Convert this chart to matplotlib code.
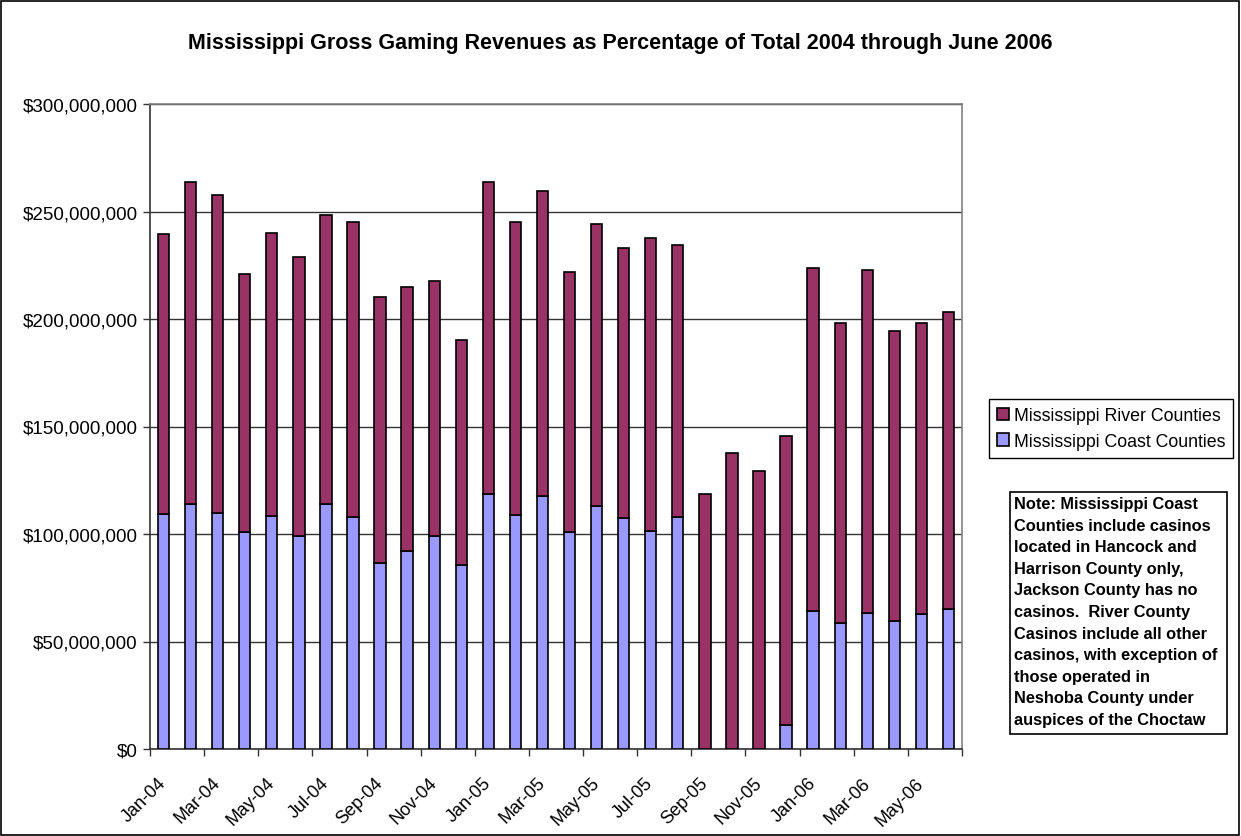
import numpy as np
import matplotlib
matplotlib.use("Agg")
import matplotlib.pyplot as plt
from matplotlib.patches import Rectangle
from matplotlib.ticker import FuncFormatter, MultipleLocator
from matplotlib.transforms import ScaledTranslation

plt.rcParams['font.family'] = ['Liberation Sans', 'DejaVu Sans']

months = ['Jan-04', 'Feb-04', 'Mar-04', 'Apr-04', 'May-04', 'Jun-04',
          'Jul-04', 'Aug-04', 'Sep-04', 'Oct-04', 'Nov-04', 'Dec-04',
          'Jan-05', 'Feb-05', 'Mar-05', 'Apr-05', 'May-05', 'Jun-05',
          'Jul-05', 'Aug-05', 'Sep-05', 'Oct-05', 'Nov-05', 'Dec-05',
          'Jan-06', 'Feb-06', 'Mar-06', 'Apr-06', 'May-06', 'Jun-06']

# monthly gross gaming revenue, $ millions
coast = [109.4, 114.1, 109.8, 100.8, 108.2, 99.2, 113.8, 108.1, 86.4, 92.2,
         99.1, 85.4, 118.8, 109.0, 117.8, 100.9, 113.0, 107.6, 101.4, 108.1,
         0.0, 0.0, 0.0, 11.3, 64.2, 58.8, 63.4, 59.5, 62.6, 65.0]
river = [130.0, 149.8, 147.9, 120.1, 132.0, 129.5, 134.6, 137.2, 123.8, 122.5,
         118.7, 104.7, 144.9, 136.0, 141.6, 121.0, 131.0, 125.4, 136.1, 126.5,
         118.4, 137.5, 129.3, 134.3, 159.5, 139.2, 159.4, 135.1, 135.5, 138.3]

note = ("Note: Mississippi Coast\nCounties include casinos\nlocated in Hancock and\n"
        "Harrison County only,\nJackson County has no\ncasinos.  River County\n"
        "Casinos include all other\ncasinos, with exception of\nthose operated in\n"
        "Neshoba County under\nauspices of the Choctaw")

W, H = 1241, 837
fig = plt.figure(figsize=(W / 100, H / 100), dpi=100)
fig.patches.append(Rectangle((1 / W, 1 / H), 1 - 3 / W, 1 - 3 / H, transform=fig.transFigure,
                             fill=False, edgecolor='black', linewidth=1.2))

ax = fig.add_axes([150 / W, (H - 750) / H, 812 / W, 645 / H])
x = np.arange(len(months))
coast_d = np.array(coast) * 1e6
river_d = np.array(river) * 1e6
b1 = ax.bar(x, coast_d, width=0.42, color='#9999FF', edgecolor='black', linewidth=1.2,
            label='Mississippi Coast Counties', zorder=3)
b2 = ax.bar(x, river_d, width=0.42, bottom=coast_d, color='#993366', edgecolor='black',
            linewidth=1.2, label='Mississippi River Counties', zorder=3)

ax.set_xlim(-0.5, len(months) - 0.5)
ax.set_ylim(0, 300e6)
ax.yaxis.set_major_locator(MultipleLocator(50e6))
ax.yaxis.set_major_formatter(FuncFormatter(lambda v, p: f"${v:,.0f}"))
ax.grid(axis='y', color='#333333', linewidth=1.0, zorder=0)

# tick marks between every second category, labels on the category centres
ax.set_xticks(np.arange(-0.5, len(months), 2))
ax.set_xticklabels([])
ax.set_xticks(x[::2], minor=True)
ax.set_xticklabels(months[::2], minor=True, rotation=45, ha='right', rotation_mode='anchor',
                   fontsize=13)
ax.tick_params(axis='x', which='minor', length=0, pad=18)
ax.tick_params(axis='x', which='major', length=5, width=1, color='#333333')
ax.tick_params(axis='y', length=5, width=1, color='#333333', labelsize=13.5, pad=4)
shift = ScaledTranslation(-0.06, 0, fig.dpi_scale_trans)
for lbl in ax.get_xticklabels(minor=True):
    lbl.set_transform(lbl.get_transform() + shift)

for side in ['top', 'right']:
    ax.spines[side].set_color('#808080')
    ax.spines[side].set_linewidth(1.2)
for side in ['left', 'bottom']:
    ax.spines[side].set_color('#333333')
    ax.spines[side].set_linewidth(1.2)

fig.text(620 / W, 1 - 44 / H,
         'Mississippi Gross Gaming Revenues as Percentage of Total 2004 through June 2006',
         ha='center', va='center', fontsize=15.5, fontweight='bold')

leg = fig.legend([b2, b1], ['Mississippi River Counties', 'Mississippi Coast Counties'],
                 loc='upper left', bbox_to_anchor=(989 / W, 1 - 400 / H), fontsize=12.8,
                 frameon=True, fancybox=False, framealpha=1, edgecolor='black',
                 handlelength=0.7, handleheight=0.7, handletextpad=0.25,
                 borderpad=0.45, labelspacing=0.5, borderaxespad=0)
leg.get_frame().set_linewidth(1.0)

fig.patches.append(Rectangle((1010 / W, 1 - 735 / H), 217 / W, 242 / H,
                             transform=fig.transFigure, fill=False,
                             edgecolor='black', linewidth=1.2))
fig.text(1014 / W, 1 - 497 / H, note, ha='left', va='top', fontsize=11.8,
         fontweight='bold', linespacing=1.55)

fig.savefig('out.png', dpi=100)
